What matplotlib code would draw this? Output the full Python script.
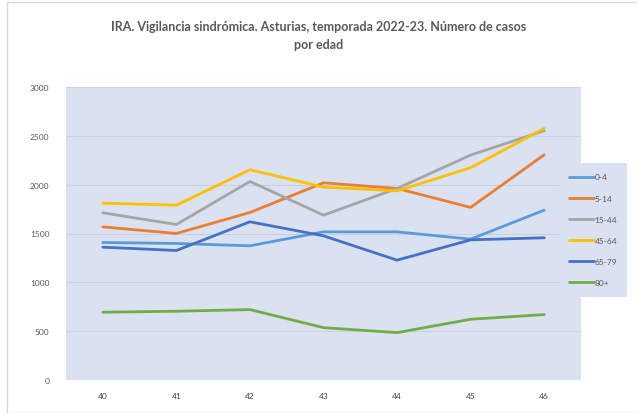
import matplotlib.pyplot as plt
from matplotlib.patches import Rectangle

# datos
semanas = ['40', '41', '42', '43', '44', '45', '46']
grupos = ['0-4', '5-14', '15-44', '45-64', '65-79', '80+']
casos_0_4 = [1408, 1398, 1374, 1517, 1517, 1442, 1739]
casos_5_14 = [1568, 1500, 1715, 2019, 1961, 1767, 2306]
casos_15_44 = [1712, 1592, 2033, 1688, 1961, 2303, 2552]
casos_45_64 = [1811, 1790, 2153, 1975, 1937, 2173, 2576]
casos_65_79 = [1360, 1326, 1620, 1476, 1227, 1435, 1456]
casos_80 = [694, 704, 721, 536, 485, 622, 670]
series = [casos_0_4, casos_5_14, casos_15_44, casos_45_64, casos_65_79, casos_80]

colores = ['#5B9BD5', '#ED7D31', '#A5A5A5', '#FFC000', '#4472C4', '#70AD47']
fondo = '#DAE1F1'

plt.rcParams['font.family'] = ['Lato', 'DejaVu Sans']

W, H = 637, 414
fig = plt.figure(figsize=(W / 100, H / 100), dpi=100)

# borde exterior del gráfico
fig.patches.append(Rectangle((7 / W, 0), 1, 1 - 3 / H, transform=fig.transFigure,
                             fill=False, edgecolor='#D9D9D9', linewidth=1))

ax = fig.add_axes([66 / W, 1 - 381 / H, (581 - 66) / W, (381 - 88) / H])
ax.set_facecolor(fondo)

x = list(range(len(semanas)))
for vals, grupo, color in zip(series, grupos, colores):
    ax.plot(x, vals, color=color, linewidth=2, label=grupo, solid_capstyle='round')

ax.set_xlim(-0.5, len(semanas) - 0.5)
ax.set_ylim(0, 3000)
ax.set_yticks(range(0, 3001, 500))
ax.set_xticks(x)
ax.set_xticklabels(semanas)
ax.grid(axis='y', color='#C9D0E2', linewidth=0.8)
ax.set_axisbelow(True)
for s in ax.spines.values():
    s.set_visible(False)
ax.tick_params(axis='both', length=0, labelsize=6, colors='#595959')
ax.tick_params(axis='x', pad=9, colors='#404040')
ax.tick_params(axis='y', pad=12)

leg = ax.legend(loc='upper left', bbox_to_anchor=(559 / W, 1 - 164 / H),
                bbox_transform=fig.transFigure, frameon=True, fancybox=False,
                fontsize=6, handlelength=2.9, handletextpad=0.1,
                labelspacing=1.7, borderpad=1.25, borderaxespad=0)
leg.get_frame().set_facecolor(fondo)
leg.get_frame().set_edgecolor('none')
leg.get_frame().set_alpha(1)
for t in leg.get_texts():
    t.set_color('#595959')

fig.text(0.5, 1 - 27 / H, 'IRA. Vigilancia sindrómica. Asturias, temporada 2022-23. Número de casos',
         ha='center', va='center', fontsize=9, fontweight='bold', color='#595959')
fig.text(0.5, 1 - 45 / H, 'por edad', ha='center', va='center',
         fontsize=9, fontweight='bold', color='#595959')

fig.savefig('out.png', dpi=100)
